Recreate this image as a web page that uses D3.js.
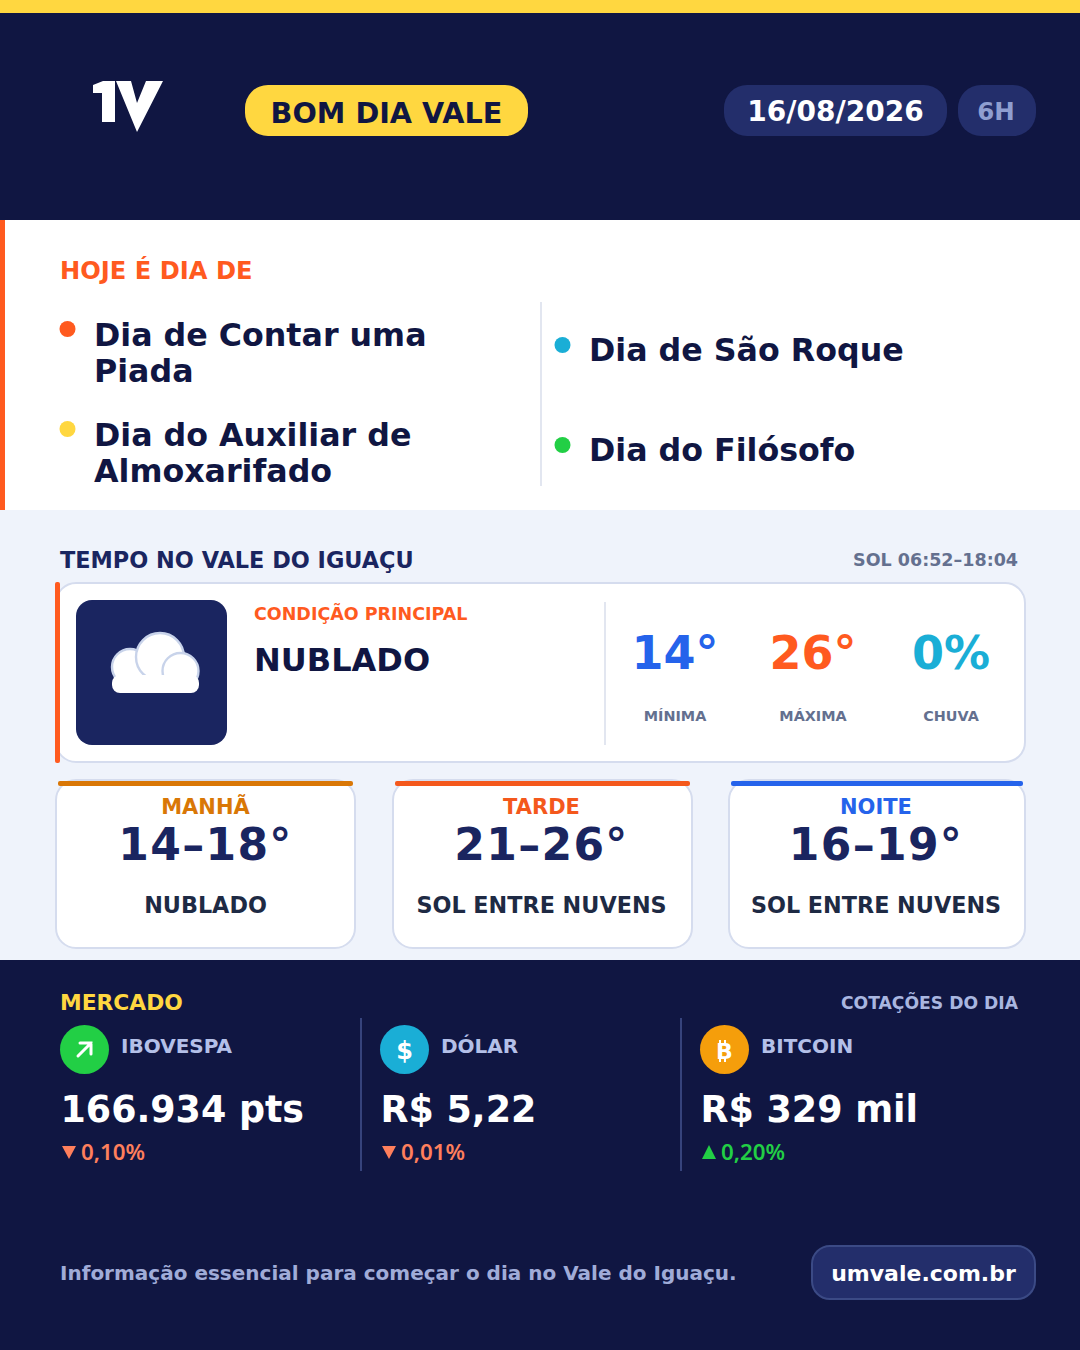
<!DOCTYPE html>
<html lang="pt-BR">
<head>
<meta charset="UTF-8">
<title>Bom dia Vale</title>
<script src="https://d3js.org/d3.v7.min.js"></script>
<style>
  html, body { margin: 0; padding: 0; background: #101642; }
  svg { display: block; }
  text { font-family: "DejaVu Sans", sans-serif; font-weight: 700; }
</style>
</head>
<body>
<svg id="chart" width="1080" height="1350"></svg>
<script>
// conteudo
const dateLabel = "16/08/2026";
const editionLabel = "6H";
const holidaysLeft = [["Dia de Contar uma", "Piada"], ["Dia do Auxiliar de", "Almoxarifado"]];
const holidaysRight = ["Dia de São Roque", "Dia do Filósofo"];
const leftDots = ["#ff5a1f", "#ffd740"];
const rightDots = ["#1aaed6", "#22cf45"];

const weatherLabels = ["MÍNIMA", "MÁXIMA", "CHUVA"];
const weatherValues = ["14°", "26°", "0%"];
const weatherColors = ["#2563eb", "#ff5a1f", "#1aaed6"];

const periods = ["MANHÃ", "TARDE", "NOITE"];
const periodRanges = ["14–18°", "21–26°", "16–19°"];
const periodSky = ["NUBLADO", "SOL ENTRE NUVENS", "SOL ENTRE NUVENS"];
const periodColors = ["#d97706", "#f4581c", "#2563eb"];
const periodX = [56, 393, 729];
const periodW = [299, 299, 296];
const periodCx = [205.5, 541.5, 876];

const markets = ["IBOVESPA", "DÓLAR", "BITCOIN"];
const marketValues = ["166.934 pts", "R$ 5,22", "R$ 329 mil"];
const marketChanges = ["0,10%", "0,01%", "0,20%"];
const marketUp = [false, false, true];
const marketColors = ["#22cf45", "#1aaed6", "#f59e0b"];

const navy = "#101642", navy2 = "#1a2560", pill = "#232e6b", orange = "#ff5a1f", yellow = "#ffd740", line = "#d5dcee";

const svg = d3.select("#chart");

function rect(parent, x, y, w, h, fill, r) {
  return parent.append("rect").attr("x", x).attr("y", y).attr("width", w).attr("height", h)
    .attr("fill", fill).attr("rx", r || 0);
}
function text(parent, x, y, str, size, fill, anchor) {
  return parent.append("text").attr("x", x).attr("y", y).attr("font-size", size)
    .attr("fill", fill).attr("text-anchor", anchor || "start").text(str);
}

// fundos
rect(svg, 0, 0, 1080, 1350, navy);
rect(svg, 0, 0, 1080, 13, yellow);
rect(svg, 0, 220, 1080, 290, "#ffffff");
rect(svg, 0, 220, 5, 290, orange);
rect(svg, 0, 510, 1080, 450, "#eff3fb");

// cabecalho
svg.append("path").attr("fill", "#ffffff")
  .attr("d", "M93 85 L103 81 L115 81 L115 122 L102 122 L102 93 L93 93 Z M116 81 L131 81 L137 103 L146 81 L163 81 L137 132 Z");
rect(svg, 245, 85, 283, 51, yellow, 23);
text(svg, 386.5, 122.5, "BOM DIA VALE", 28.7, navy, "middle");
rect(svg, 724, 85, 223, 51, pill, 23);
text(svg, 835.5, 120.5, dateLabel, 28, "#ffffff", "middle");
rect(svg, 958, 85, 78, 51, pill, 23);
text(svg, 996, 120, editionLabel, 24.5, "#8f9ed0", "middle");

// datas comemorativas
text(svg, 60, 279, "HOJE É DIA DE", 24.2, orange);
const leftY = [346, 446];
holidaysLeft.forEach((lines, i) => {
  svg.append("circle").attr("cx", 67.5).attr("cy", leftY[i] - 17).attr("r", 8).attr("fill", leftDots[i]);
  lines.forEach((l, j) => text(svg, 94, leftY[i] + j * 36, l, 31.7, navy));
});
rect(svg, 540, 302, 2, 184, "#e2e6f0");
const rightY = [361, 461];
holidaysRight.forEach((l, i) => {
  svg.append("circle").attr("cx", 562.5).attr("cy", rightY[i] - 16).attr("r", 8).attr("fill", rightDots[i]);
  text(svg, 589, rightY[i], l, 31.7, navy);
});

// tempo
text(svg, 60, 568, "TEMPO NO VALE DO IGUAÇU", 22.4, navy2);
text(svg, 1018, 566, "SOL 06:52–18:04", 17.5, "#64708f", "end");

rect(svg, 56, 583, 969, 179, "#ffffff", 20).attr("stroke", line).attr("stroke-width", 2);
rect(svg, 55, 582, 5, 181, orange, 2);
rect(svg, 76, 600, 151, 145, navy2, 16);

// nuvem
const cloud = svg.append("g");
[[130, 667, 18], [160, 657, 24], [180.5, 671, 18]].forEach(c => {
  cloud.append("circle").attr("cx", c[0]).attr("cy", c[1]).attr("r", c[2])
    .attr("fill", "#ffffff").attr("stroke", "#c8d3ea").attr("stroke-width", 2.4);
});
rect(cloud, 112, 675, 87, 18, "#ffffff", 8);

text(svg, 254, 620, "CONDIÇÃO PRINCIPAL", 17.5, orange);
text(svg, 254, 671, "NUBLADO", 32, navy);
rect(svg, 604, 602, 2, 143, "#e2e6f0");

const weatherX = d3.scalePoint().domain(weatherLabels).range([675, 951]);
const wg = svg.selectAll(".wx").data(weatherLabels).enter().append("g").attr("class", "wx");
wg.append("text").attr("x", d => weatherX(d)).attr("y", 669).attr("font-size", 46)
  .attr("text-anchor", "middle").attr("fill", (d, i) => weatherColors[i]).text((d, i) => weatherValues[i]);
wg.append("text").attr("x", d => weatherX(d)).attr("y", 721).attr("font-size", 14.4)
  .attr("text-anchor", "middle").attr("fill", "#64708f").text(d => d);

// periodos
periods.forEach((p, i) => {
  const x = periodX[i], w = periodW[i], cx = periodCx[i];
  rect(svg, x, 780, w, 168, "#ffffff", 20).attr("stroke", line).attr("stroke-width", 2);
  rect(svg, x + 2, 781, w - 4, 5, periodColors[i], 2);
  text(svg, cx, 814, p, 21, periodColors[i], "middle");
  text(svg, cx, 860, periodRanges[i], 44, navy2, "middle").attr("letter-spacing", 1.3);
  text(svg, cx, 913, periodSky[i], 22.3, "#1e2a44", "middle");
});

// mercado
text(svg, 60, 1010, "MERCADO", 21.8, yellow);
text(svg, 1018, 1009, "COTAÇÕES DO DIA", 17.2, "#a9b6e0", "end");

const marketX = d3.scalePoint().domain(markets).range([60, 700]);
markets.forEach((m, i) => {
  const x = marketX(m);
  if (i > 0) rect(svg, x - 20, 1018, 2, 153, "#36437c");
  svg.append("circle").attr("cx", x + 24.5).attr("cy", 1049.5).attr("r", 24.5).attr("fill", marketColors[i]);
  text(svg, x + 61, 1053, m, 20, "#b4c0e8");
  text(svg, x + 0.5, 1122, marketValues[i], 36.4, "#ffffff");
  const col = marketUp[i] ? "#22cf45" : "#ff7f5c";
  svg.append("path").attr("fill", col)
    .attr("d", marketUp[i] ? `M${x + 2} 1159 L${x + 16} 1159 L${x + 9} 1145 Z` : `M${x + 2} 1146 L${x + 16} 1146 L${x + 9} 1159 Z`);
  text(svg, x + 21, 1160, marketChanges[i], 22.3, col).style("font-family", "'Noto Sans'").style("font-weight", 600);
});

// icones do mercado
const ibX = marketX("IBOVESPA");
svg.append("path").attr("fill", "none").attr("stroke", "#ffffff").attr("stroke-width", 3)
  .attr("stroke-linecap", "round").attr("d", `M${ibX + 18} 1056 L${ibX + 31} 1043 M${ibX + 20} 1043 L${ibX + 31} 1043 L${ibX + 31} 1054`);
text(svg, marketX("DÓLAR") + 24.5, 1059, "$", 24, "#ffffff", "middle");
const btX = marketX("BITCOIN");
text(svg, btX + 24.5, 1059, "B", 22, "#ffffff", "middle");
[19, 24].forEach(dx => {
  rect(svg, btX + dx, 1040, 2, 4, "#ffffff");
  rect(svg, btX + dx, 1058, 2, 4, "#ffffff");
});

// rodape
text(svg, 60, 1280, "Informação essencial para começar o dia no Vale do Iguaçu.", 20, "#a0acd8");
rect(svg, 812, 1246, 223, 53, pill, 18).attr("stroke", "#3b4a85").attr("stroke-width", 2);
text(svg, 923.5, 1281, "umvale.com.br", 22, "#ffffff", "middle");
</script>
</body>
</html>
